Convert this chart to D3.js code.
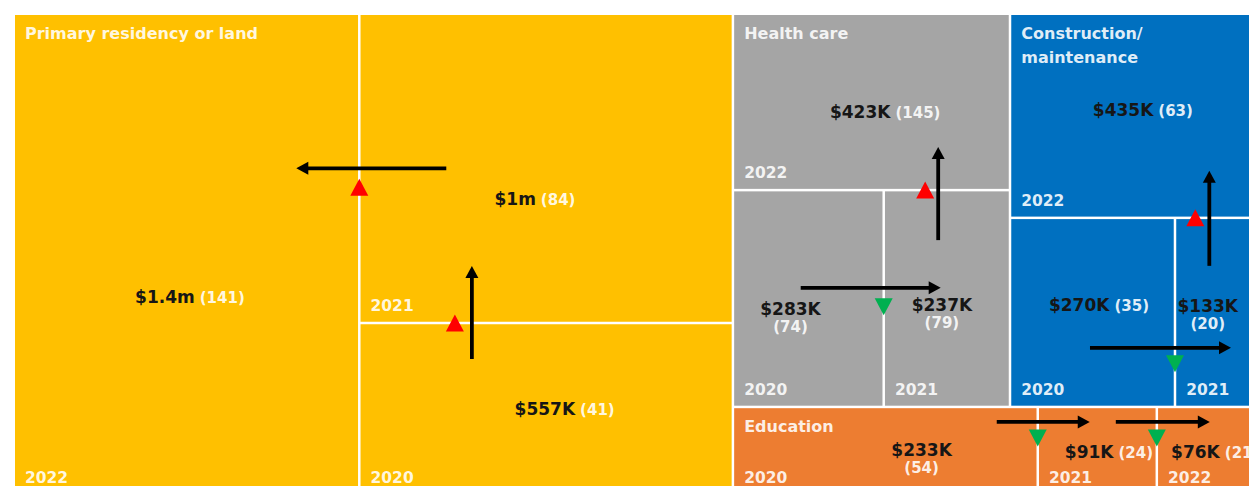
<!DOCTYPE html>
<html>
<head>
<meta charset="utf-8">
<script src="https://cdn.jsdelivr.net/npm/d3@7"></script>
<style>
  body { margin: 0; background: #fff; }
  svg { display: block; }
  text { font-family: "DejaVu Sans", Verdana, sans-serif; font-weight: bold; }
</style>
</head>
<body>
<svg id="chart" width="1249" height="486"></svg>
<script>
// ---- data ----
const categories = ["Primary residency or land", "Health care", "Construction/ maintenance", "Education"];
const years = ["2020", "2021", "2022"];
// total value in $K, per category, per year (2020, 2021, 2022)
// ($1.4m cell is a bit wider than 1400 would give, so ~1440)
const amounts = [
    [557, 1000, 1440],
    [283, 237, 423],
    [270, 133, 435],
    [233, 91, 76]
];
// number of cases
const counts = [
    [41, 84, 141],
    [74, 79, 145],
    [35, 20, 63],
    [54, 24, 21]
];
const amountLabels = [
    ["$557K", "$1m", "$1.4m"],
    ["$283K", "$237K", "$423K"],
    ["$270K", "$133K", "$435K"],
    ["$233K", "$91K", "$76K"]
];

// ---- look ----
const colors = ["#FFC000", "#A5A5A5", "#0070C0", "#ED7D31"];
// where the value label sits in its cell: [share of width, share of height, two lines?]
const labelSpots = [
    [[0.55, 0.50, false], [0.47, 0.60, false], [0.51, 0.59, false]],
    [[0.38, 0.55, true], [0.46, 0.53, true], [0.55, 0.56, false]],
    [[0.54, 0.46, false], [0.40, 0.47, true], [0.54, 0.475, false]],
    [[0.62, 0.49, true], [0.60, 0.51, false], [0.59, 0.51, false]]
];
// change arrows 2020->2021 and 2021->2022: spot along the shared edge, tail and head length, triangle offset
const arrowSpots = [
    [{t: 0.30, back: 36, fwd: 57, tri: -17}, {t: 0.50, back: 87, fwd: 63, tri: 19}],
    [{t: 0.45, back: 83, fwd: 57, tri: 19}, {t: 0.43, back: 50, fwd: 43, tri: -13}],
    [{t: 0.69, back: 85, fwd: 56, tri: 16}, {t: 0.42, back: 48, fwd: 47, tri: -14}],
    [{t: 0.16, back: 41, fwd: 52, tri: 16}, {t: 0.16, back: 41, fwd: 53, tri: 16}]
];

const margin = {left: 15, top: 15};
const width = 1240, height = 479;

const svg = d3.select("#chart");
const g = svg.append("g").attr("transform", `translate(${margin.left},${margin.top})`);

// first group takes a full-height column, the next two share a row, the last one fills below
function tile(node, x0, y0, x1, y1) {
    if (node.depth > 0) return d3.treemapSquarify.ratio(1)(node, x0, y0, x1, y1);
    let [first, second, third, last] = node.children;
    let xs = x0 + (x1 - x0) * first.value / node.value;
    d3.treemapSlice({children: [first], value: first.value}, x0, y0, xs, y1);
    let pair = second.value + third.value;
    let ys = y0 + (y1 - y0) * pair / (node.value - first.value);
    d3.treemapDice({children: [second, third], value: pair}, xs, y0, x1, ys);
    d3.treemapSlice({children: [last], value: last.value}, xs, ys, x1, y1);
}

let tree = {
    name: "all",
    children: categories.map((c, i) => ({
        name: c, ci: i,
        children: years.map((y, j) => ({name: y, ci: i, yj: j, value: amounts[i][j]}))
    }))
};

let root = d3.hierarchy(tree)
    .sum(d => d.children ? 0 : d.value)
    .sort((a, b) => b.value - a.value);

d3.treemap()
    .tile(tile)
    .size([width, height])
    .paddingInner(2.5)
    .round(false)(root);

let leaves = root.leaves();
let cell = (i, j) => leaves.find(d => d.data.ci === i && d.data.yj === j);

// cells
g.append("g")
    .selectAll("rect")
    .data(leaves)
    .join("rect")
    .attr("x", d => d.x0)
    .attr("y", d => d.y0)
    .attr("width", d => d.x1 - d.x0)
    .attr("height", d => d.y1 - d.y0)
    .attr("fill", d => colors[d.data.ci]);

// group names, top left
let groups = root.children;
g.append("g")
    .selectAll("text")
    .data(groups)
    .join("text")
    .attr("x", d => d.x0 + 10)
    .attr("y", d => d.y0 + 24)
    .attr("fill", "#fff")
    .attr("fill-opacity", 0.88)
    .style("font-size", "16px")
    .each(function(d) {
        let lines = d.data.name.split(/(?<=\/)\s+/);
        d3.select(this).selectAll("tspan")
            .data(lines)
            .join("tspan")
            .attr("x", d.x0 + 10)
            .attr("dy", (l, k) => k ? 24 : 0)
            .text(l => l);
    });

// year, bottom left
g.append("g")
    .selectAll("text")
    .data(leaves)
    .join("text")
    .attr("x", d => d.x0 + 10)
    .attr("y", d => d.y1 - 11)
    .attr("fill", "#fff")
    .attr("fill-opacity", 0.88)
    .style("font-size", "15.5px")
    .text(d => d.data.name);

// value labels
let vals = g.append("g");
leaves.forEach(d => {
    let i = d.data.ci, j = d.data.yj;
    let [fx, fy, twoLines] = labelSpots[i][j];
    let cx = d.x0 + (d.x1 - d.x0) * fx;
    let cy = d.y0 + (d.y1 - d.y0) * fy;
    let t = vals.append("text")
        .attr("x", cx)
        .attr("y", cy)
        .attr("dy", "0.35em")
        .attr("text-anchor", "middle");
    t.append("tspan")
        .attr("fill", "#161616")
        .style("font-size", "17px")
        .text(amountLabels[i][j]);
    let c = t.append("tspan")
        .attr("fill", "#fff")
        .attr("fill-opacity", 0.9)
        .style("font-size", "15px")
        .text(`(${counts[i][j]})`);
    if (twoLines) {
        c.attr("x", cx).attr("dy", 17);
    } else {
        c.attr("dx", 5);
    }
});

// where two cells touch
function sharedEdge(a, b) {
    let near = (p, q) => Math.abs(p - q) < 6;
    if (near(a.x1, b.x0)) return {dx: 1, dy: 0, at: (a.x1 + b.x0) / 2, lo: Math.max(a.y0, b.y0), hi: Math.min(a.y1, b.y1)};
    if (near(b.x1, a.x0)) return {dx: -1, dy: 0, at: (b.x1 + a.x0) / 2, lo: Math.max(a.y0, b.y0), hi: Math.min(a.y1, b.y1)};
    if (near(a.y1, b.y0)) return {dx: 0, dy: 1, at: (a.y1 + b.y0) / 2, lo: Math.max(a.x0, b.x0), hi: Math.min(a.x1, b.x1)};
    return {dx: 0, dy: -1, at: (b.y1 + a.y0) / 2, lo: Math.max(a.x0, b.x0), hi: Math.min(a.x1, b.x1)};
}

// change arrows + up/down triangles
let arrows = g.append("g");
let headLen = 12, headHalf = 6.5, triW = 18, triH = 17;
categories.forEach((c, i) => {
    for (let j = 0; j < years.length - 1; j++) {
        let from = cell(i, j), to = cell(i, j + 1);
        let spot = arrowSpots[i][j];
        let e = sharedEdge(from, to);
        let along = e.lo + (e.hi - e.lo) * spot.t;
        let px = e.dx ? e.at : along;
        let py = e.dx ? along : e.at;
        let x0 = px - e.dx * spot.back, y0 = py - e.dy * spot.back;
        let x1 = px + e.dx * spot.fwd, y1 = py + e.dy * spot.fwd;

        arrows.append("line")
            .attr("x1", x0).attr("y1", y0)
            .attr("x2", x1 - e.dx * headLen * 0.8).attr("y2", y1 - e.dy * headLen * 0.8)
            .attr("stroke", "#000")
            .attr("stroke-width", 3.8);
        let bx = x1 - e.dx * headLen, by = y1 - e.dy * headLen;
        arrows.append("path")
            .attr("d", `M${x1},${y1}L${bx - e.dy * headHalf},${by - e.dx * headHalf}L${bx + e.dy * headHalf},${by + e.dx * headHalf}Z`)
            .attr("fill", "#000");

        let up = amounts[i][j + 1] > amounts[i][j];
        let tx = e.dx ? e.at : along + spot.tri;
        let ty = e.dx ? along + spot.tri : e.at;
        let s = up ? 1 : -1;
        arrows.append("path")
            .attr("d", `M${tx},${ty - s * triH / 2}L${tx - triW / 2},${ty + s * triH / 2}L${tx + triW / 2},${ty + s * triH / 2}Z`)
            .attr("fill", up ? "#FF0000" : "#00B050");
    }
});
</script>
</body>
</html>
